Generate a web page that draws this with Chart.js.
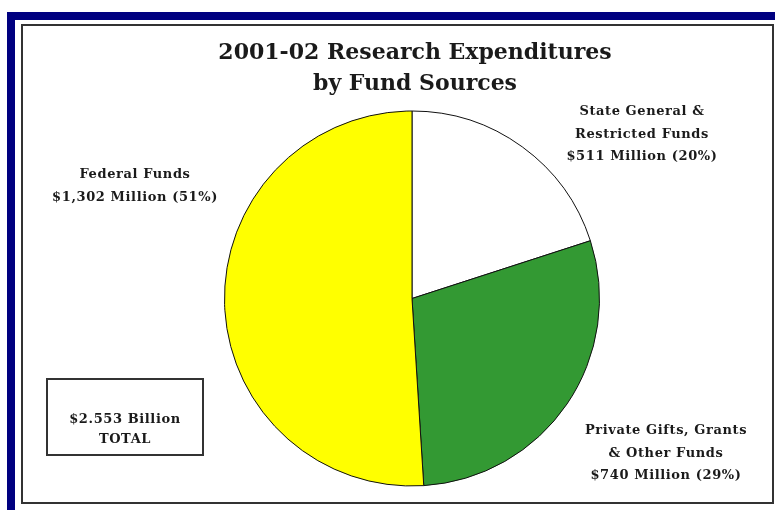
<!DOCTYPE html>
<html>
<head>
<meta charset="utf-8">
<script src="https://cdn.jsdelivr.net/npm/chart.js@4"></script>
<style>
  body { margin: 0; background: #ffffff; }
  canvas { display: block; }
</style>
</head>
<body>
<canvas id="fundchart" width="775" height="510"></canvas>
<script>
// fund sources, in millions of dollars
const sources = ["State General & Restricted Funds", "Private Gifts, Grants & Other Funds", "Federal Funds"];
const amounts = [511, 740, 1302];
const sliceColors = ["#ffffff", "#339933", "#ffff00"];

// label lines printed beside each slice
const labelLines = [
	["State General &", "Restricted Funds"],
	["Private Gifts, Grants", "& Other Funds"],
	["Federal Funds"]
];
const titleLines = ["2001-02 Research Expenditures", "by Fund Sources"];
const totalLines = ["$2.553 Billion", "TOTAL"];

const serif = "'DejaVu Serif', 'Liberation Serif', serif";

function amountLine(i) {
	const total = amounts.reduce((a, b) => a + b, 0);
	const pct = Math.round(amounts[i] / total * 100);
	return "$" + amounts[i].toLocaleString("en-US") + " Million (" + pct + "%)";
}

const framePlugin = {
	id: "frame",
	beforeDraw(chart) {
		const ctx = chart.ctx;
		ctx.save();
		// navy outer frame
		ctx.fillStyle = "#000080";
		ctx.fillRect(7, 12, 775, 510);
		ctx.fillStyle = "#ffffff";
		ctx.fillRect(15, 20, 775, 510);
		// thin black panel border
		ctx.strokeStyle = "#333333";
		ctx.lineWidth = 2;
		ctx.strokeRect(22, 25, 751, 478);
		ctx.restore();
	},
	afterDraw(chart) {
		const ctx = chart.ctx;
		ctx.save();
		ctx.fillStyle = "#1a1a1a";
		ctx.textAlign = "center";
		ctx.textBaseline = "alphabetic";

		ctx.font = "bold 22px " + serif;
		ctx.fillText(titleLines[0], 415, 59);
		ctx.fillText(titleLines[1], 415, 90);

		// slice labels
		const spots = [[642, 115], [666, 434], [135, 178]];
		ctx.font = "bold 13px " + serif;
		ctx.letterSpacing = "0.6px";
		labelLines.forEach((lines, i) => {
			const all = lines.concat([amountLine(i)]);
			all.forEach((t, k) => {
				ctx.fillText(t, spots[i][0], spots[i][1] + k * 22.5);
			});
		});

		// total box
		ctx.strokeStyle = "#333333";
		ctx.lineWidth = 2;
		ctx.strokeRect(47, 379, 156, 76);
		ctx.fillText(totalLines[0], 125, 423);
		ctx.fillText(totalLines[1], 125, 443);
		ctx.restore();
	}
};

const fundContext = document.getElementById("fundchart").getContext("2d");

let fundChart = new Chart(fundContext, {
	type: "pie",
	data: {
		labels: sources,
		datasets: [
			{
				data: amounts,
				backgroundColor: sliceColors,
				borderColor: "#111111",
				borderWidth: 1
			}
		]
	},
	options: {
		responsive: false,
		animation: false,
		devicePixelRatio: 1,
		layout: {
			padding: { left: 224, right: 175, top: 110, bottom: 23 }
		},
		plugins: {
			legend: { display: false },
			title: { display: false },
			tooltip: { enabled: false }
		}
	},
	plugins: [framePlugin]
});
</script>
</body>
</html>
